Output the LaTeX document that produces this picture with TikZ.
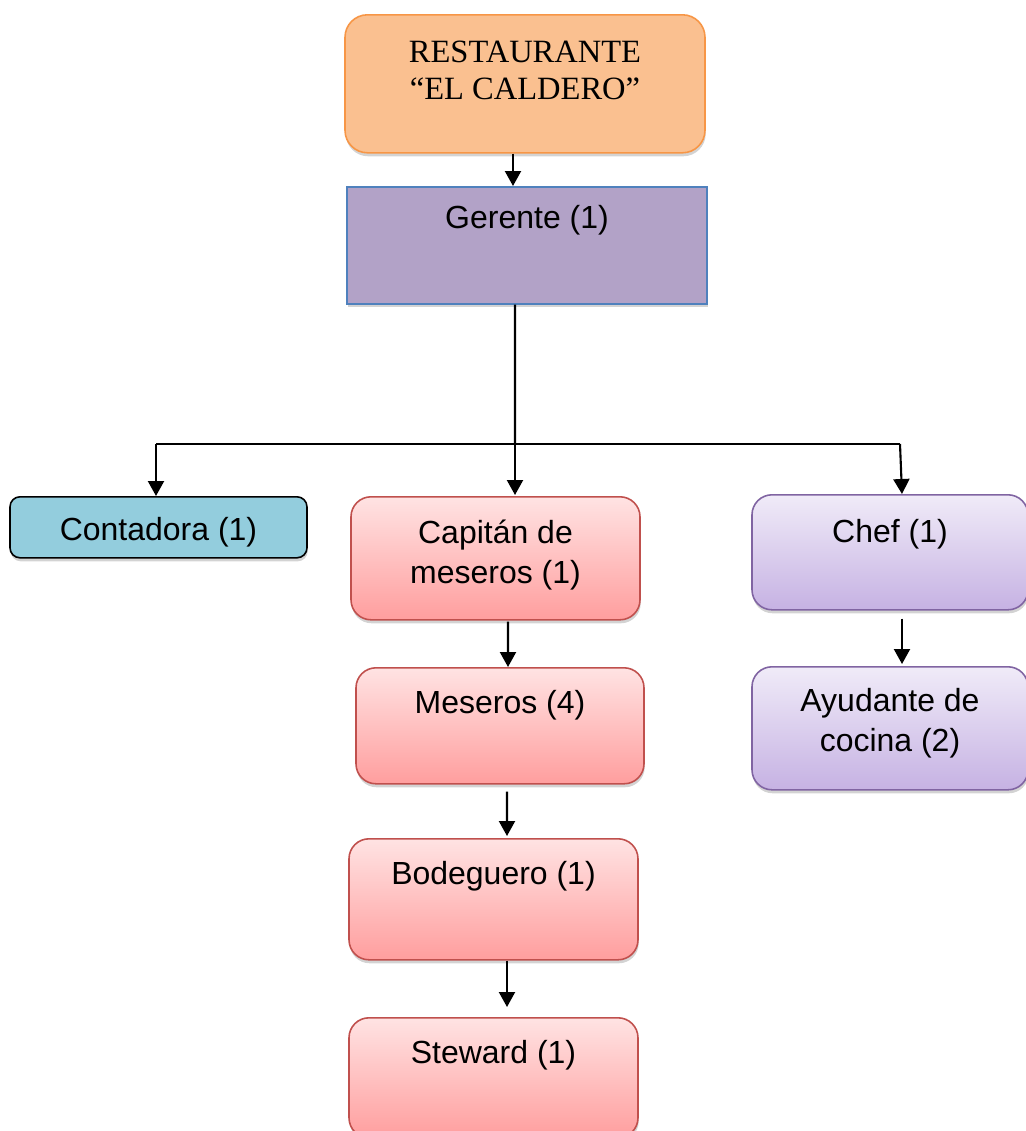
\documentclass[tikz,border=0pt]{standalone}
\usepackage{fontspec}
\setmainfont{Liberation Sans}
\newfontfamily\timesfont{Liberation Serif}
\usepackage{tikz}
\usetikzlibrary{arrows.meta,shadows}

\definecolor{orangefill}{HTML}{FAC090}
\definecolor{orangeline}{HTML}{F79646}
\definecolor{gerfill}{HTML}{B2A2C7}
\definecolor{gerline}{HTML}{4F81BD}
\definecolor{contfill}{HTML}{93CDDD}
\definecolor{pinktop}{HTML}{FFE3E3}
\definecolor{pinkbot}{HTML}{FF9E9E}
\definecolor{pinkline}{HTML}{C0504D}
\definecolor{lavtop}{HTML}{F0EBF8}
\definecolor{lavbot}{HTML}{C6B2E3}
\definecolor{lavline}{HTML}{8064A2}

\begin{document}
\begin{tikzpicture}[
  box/.style={anchor=north, inner sep=0pt, align=center, line width=0.9pt,
    font=\fontsize{18.2}{22.8}\selectfont,
    drop shadow={shadow xshift=0.4pt, shadow yshift=-2pt, opacity=0.35}},
  redbox/.style={box, draw=pinkline, top color=pinktop, bottom color=pinkbot,
    rounded corners=0.4cm, minimum width=5.78cm},
  lavbox/.style={box, draw=lavline, top color=lavtop, bottom color=lavbot,
    rounded corners=0.4cm, minimum width=5.52cm},
  link/.style={line width=1.2pt},
  arr/.style={link, -{Triangle[width=0.32cm,length=0.3cm]}}
]
\useasboundingbox (0,0) rectangle (20.52,-22.62);
\begin{scope}
\clip (0,0) rectangle (20.52,-22.62);
% top of the chart
\node [box, draw=orangeline, fill=orangefill, rounded corners=0.45cm,
  minimum width=7.2cm, text height=1.7cm, text depth=1.06cm,
  font=\timesfont\fontsize{18.5}{21}\selectfont] (rest) at (10.5,-0.28)
  {RESTAURANTE\\“EL CALDERO”};
\node [box, draw=gerline, fill=gerfill, minimum width=7.2cm,
  text height=0.84cm, text depth=1.5cm] (ger) at (10.54,-3.72) {Gerente (1)};
% second row
\node [box, draw=black, fill=contfill, rounded corners=0.2cm, minimum width=5.94cm,
  text height=0.88cm, text depth=0.34cm] (cont) at (3.17,-9.92) {Contadora (1)};
\node [redbox, text height=1.74cm, text depth=0.72cm] (cap) at (9.91,-9.92)
  {Capit\'an de\\meseros (1)};
\node [lavbox, text height=0.96cm, text depth=1.34cm] (chef) at (17.8,-9.88) {Chef (1)};
% waiters column
\node [redbox, minimum width=5.76cm, text height=0.92cm, text depth=1.4cm] (mes)
  at (10.0,-13.34) {Meseros (4)};
\node [redbox, text height=0.92cm, text depth=1.5cm] (bod) at (9.87,-16.76)
  {Bodeguero (1)};
\node [redbox, text height=0.92cm, text depth=1.48cm] (stew) at (9.87,-20.34)
  {Steward (1)};
% kitchen column
\node [lavbox, text height=1.7cm, text depth=0.76cm] (ayu) at (17.8,-13.32)
  {Ayudante de\\cocina (2)};
\end{scope}

\coordinate (bus) at (10.3,-8.88);
\coordinate (busL) at (3.12,-8.88);
\coordinate (busR) at (18.0,-8.88);

\draw [arr] ([xshift=-0.24cm]rest.south) -- ([xshift=-0.28cm]ger.north);
\draw [link] ([xshift=-0.24cm]ger.south) -- (bus);
\draw [link] (busL) -- (busR);
\draw [arr] (busL) -- (busL |- cont.north);
\draw [arr] (bus) -- ([yshift=0.02cm]bus |- cap.north);
\draw [arr] (busR) -- ([xshift=0.24cm]chef.north);
\draw [arr] ([xshift=0.25cm,yshift=-0.02cm]cap.south) -- ([xshift=0.16cm]mes.north);
\draw [arr] ([xshift=0.14cm,yshift=-0.14cm]mes.south) -- ([xshift=0.27cm,yshift=0.04cm]bod.north);
\draw [arr] ([xshift=0.27cm]bod.south) -- ([xshift=0.27cm,yshift=0.2cm]stew.north);
\draw [arr] ([xshift=0.24cm,yshift=-0.16cm]chef.south) -- ([xshift=0.24cm,yshift=0.04cm]ayu.north);
\end{tikzpicture}
\end{document}
